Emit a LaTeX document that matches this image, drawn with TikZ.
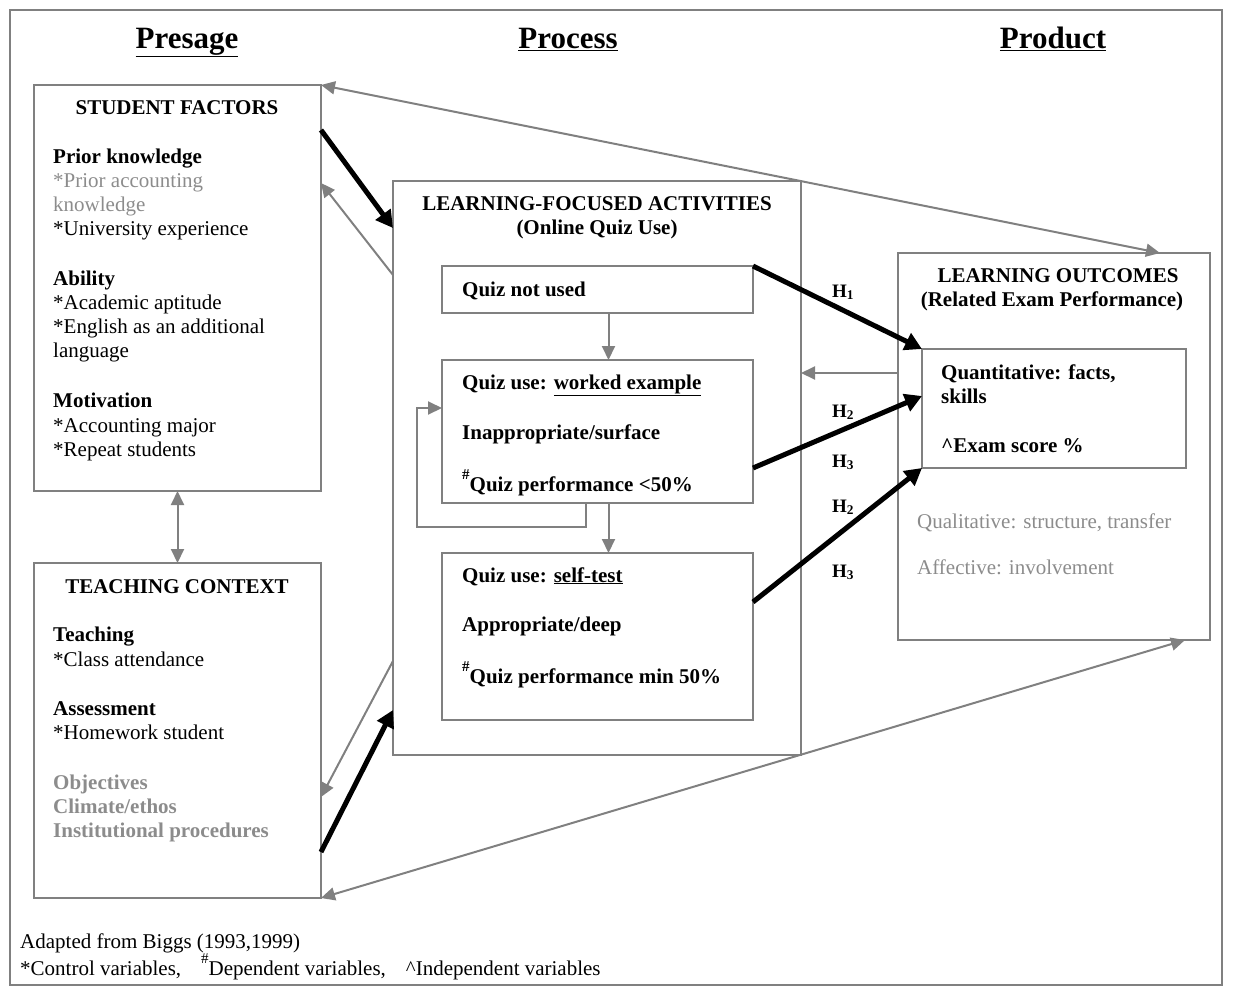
\documentclass[tikz,border=0pt]{standalone}
\usepackage{fontspec}
\setmainfont{Liberation Serif}
\usetikzlibrary{arrows.meta}
\definecolor{lg}{RGB}{128,128,128}
\definecolor{tg}{RGB}{140,140,140}
\tikzset{
  box/.style={draw=lg, line width=1.5pt, anchor=north west, inner sep=0pt, outer sep=0pt},
  txt/.style={anchor=base west, inner sep=0pt, font=\fontsize{21}{24}\selectfont},
  btxt/.style={txt, font=\fontsize{21}{24}\selectfont\bfseries},
  ctxt/.style={anchor=base, inner sep=0pt, font=\fontsize{21}{24}\selectfont\bfseries},
  gtxt/.style={txt, text=tg},
  gbtxt/.style={btxt, text=tg},
  head/.style={anchor=base, inner sep=0pt, font=\fontsize{31}{36}\selectfont\bfseries},
  hlab/.style={anchor=base west, inner sep=0pt, font=\fontsize{19}{22}\selectfont\bfseries},
  garr/.style={draw=lg, line width=2pt, -{Triangle[length=14pt,width=13pt]}},
  gdarr/.style={draw=lg, line width=2pt, {Triangle[length=14pt,width=13pt]}-{Triangle[length=14pt,width=13pt]}},
  barr/.style={draw=black, line width=5pt, -{Triangle[length=17pt,width=18pt]}},
}
\newcommand{\sups}[1]{\raisebox{0.55em}{\fontsize{15}{15}\selectfont #1}}
\begin{document}
\begin{tikzpicture}[x=1pt,y=-1pt]
\useasboundingbox (0,0) rectangle (1235,994);
% outer frame
\node[box, minimum width=1212pt, minimum height=975pt] (frame) at (10,10) {};
% headings
\node[head] (hpre) at (187,48) {\underline{Presage}};
\node[head] (hpro) at (568,48) {\underline{Process}};
\node[head] (hprd) at (1053,48) {\underline{Product}};
% boxes
\node[box, minimum width=287pt, minimum height=406pt] (sf) at (34,85) {};
\node[box, minimum width=287pt, minimum height=335pt] (tc) at (34,563) {};
\node[box, minimum width=408pt, minimum height=574pt] (la) at (393,181) {};
\node[box, minimum width=311pt, minimum height=47pt] (qn) at (442,266) {};
\node[box, minimum width=311pt, minimum height=143pt] (qw) at (442,360) {};
\node[box, minimum width=311pt, minimum height=167pt] (qs) at (442,553) {};
\node[box, minimum width=312pt, minimum height=387pt] (lo) at (898,253) {};
\node[box, minimum width=264pt, minimum height=119pt] (qt) at (922,349) {};
% student factors text
\node[ctxt] (sft) at (177,114) {STUDENT FACTORS};
\node[btxt] (s1) at (53,163) {Prior knowledge};
\node[gtxt] (s2) at (53,187) {*Prior accounting};
\node[gtxt] (s3) at (53,211) {knowledge};
\node[txt] (s4) at (53,235) {*University experience};
\node[btxt] (s5) at (53,285) {Ability};
\node[txt] (s6) at (53,309) {*Academic aptitude};
\node[txt] (s7) at (53,333) {*English as an additional};
\node[txt] (s8) at (53,357) {language};
\node[btxt] (s9) at (53,407) {Motivation};
\node[txt] (s10) at (53,432) {*Accounting major};
\node[txt] (s11) at (53,456) {*Repeat students};
% teaching context text
\node[ctxt] (tct) at (177,593) {TEACHING CONTEXT};
\node[btxt] (t1) at (53,641) {Teaching};
\node[txt] (t2) at (53,666) {*Class attendance};
\node[btxt] (t3) at (53,715) {Assessment};
\node[txt] (t4) at (53,739) {*Homework student};
\node[gbtxt] (t5) at (53,789) {Objectives};
\node[gbtxt] (t6) at (53,813) {Climate/ethos};
\node[gbtxt] (t7) at (53,837) {Institutional procedures};
% activities text
\node[ctxt] (lat1) at (597,210) {LEARNING-FOCUSED ACTIVITIES};
\node[ctxt] (lat2) at (597,234) {(Online Quiz Use)};
\node[btxt] (qnt) at (462,296) {Quiz not used};
\node[btxt] (qw1) at (462,389) {Quiz use: \underline{worked example}};
\node[btxt] (qw2) at (462,439) {Inappropriate/surface};
\node[btxt] (qw3) at (462,491) {\sups{\#}Quiz performance <50\%};
\node[btxt] (qs1) at (462,582) {Quiz use: \underline{self-test}};
\node[btxt] (qs2) at (462,631) {Appropriate/deep};
\node[btxt] (qs3) at (462,683) {\sups{\#}Quiz performance min 50\%};
% outcomes text
\node[ctxt] (lot1) at (1058,282) {LEARNING OUTCOMES};
\node[ctxt] (lot2) at (1052,306) {(Related Exam Performance)};
\node[btxt] (o1) at (941,379) {Quantitative: facts,};
\node[btxt] (o2) at (941,403) {skills};
\node[btxt] (o3) at (941,452) {\textasciicircum Exam score \%};
\node[gtxt] (o4) at (917,528) {Qualitative: structure, transfer};
\node[gtxt] (o5) at (917,574) {Affective: involvement};
% footer
\node[txt] (f1) at (20,948) {Adapted from Biggs (1993,1999)};
\node[txt] (f2) at (20,975) {*Control variables,\hspace{20pt}\sups{\#}Dependent variables,\hspace{20pt}\textasciicircum Independent variables};
% H labels
\node[hlab] (h1) at (832,297) {H\textsubscript{1}};
\node[hlab] (h2a) at (832,417) {H\textsubscript{2}};
\node[hlab] (h3a) at (832,467) {H\textsubscript{3}};
\node[hlab] (h2b) at (832,512) {H\textsubscript{2}};
\node[hlab] (h3b) at (832,577) {H\textsubscript{3}};
% connectors
\draw[gdarr] (sf.north east) -- ([xshift=-50pt]lo.north east);
\draw[gdarr] (tc.south east) -- ([xshift=-25pt]lo.south east);
\draw[gdarr] (sf.south) -- (tc.north);
\draw[barr] ([yshift=-45pt]sf.north east) -- ([yshift=-47pt]la.north west);
\draw[garr] ([yshift=-94pt]la.north west) -- ([yshift=-98pt]sf.north east);
\draw[garr] ([yshift=94pt]la.south west) -- ([yshift=101pt]tc.south east);
\draw[barr] ([yshift=46pt]tc.south east) -- ([yshift=45pt]la.south west);
\draw[garr] ([xshift=11pt]qn.south) -- ([xshift=11pt]qw.north);
\draw[garr] ([xshift=11pt]qw.south) -- ([xshift=11pt]qs.north);
\coordinate (lp) at (417,527);
\draw[garr] ([xshift=-12pt]qw.south) |- (lp) |- ([yshift=-48pt]qw.north west);
\draw[barr] (qn.north east) -- (qt.north west);
\draw[barr] ([yshift=35pt]qw.south east) -- ([yshift=-47pt]qt.north west);
\draw[barr] ([yshift=-49pt]qs.north east) -- (qt.south west);
\draw[garr] ([yshift=-120pt]lo.north west) -- ([yshift=-192pt]la.north east);
\end{tikzpicture}
\end{document}
